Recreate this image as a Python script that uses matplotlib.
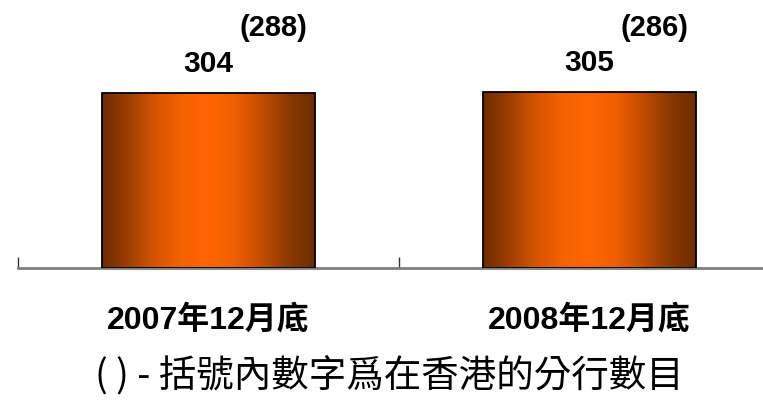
import matplotlib
matplotlib.use('Agg')
import matplotlib.pyplot as plt
from matplotlib.colors import LinearSegmentedColormap
import numpy as np

# branch numbers at year end, brackets = branches in Hong Kong
categories = ['2007年12月底', '2008年12月底']
totals = [304, 305]
hk_branches = [288, 286]
note = '( ) - 括號內數字爲在香港的分行數目'

fig = plt.figure(figsize=(7.63, 4.03), dpi=100)
ax = fig.add_axes([18 / 763, 135 / 403, 762 / 763, 268 / 403])

x = np.arange(len(categories))
bars = ax.bar(x, totals, width=0.557, facecolor='none', edgecolor='black',
              linewidth=1.3, zorder=3)

# left-to-right shading: dark brown edges, bright orange middle
shade = LinearSegmentedColormap.from_list(
    'copper_bar', ['#6e2c00', '#9c3f00', '#d65500', '#f56200', '#ff6600',
                   '#f05f00', '#c24d00', '#8c3a00', '#6e2c00'])
grad = np.linspace(0, 1, 256).reshape(1, -1)
for b in bars:
    bx, by = b.get_x(), b.get_y()
    im = ax.imshow(grad, cmap=shade, aspect='auto', zorder=2,
                   extent=[bx, bx + b.get_width(), by, by + b.get_height()])
    im.set_clip_path(b)

for xi, tot, hk in zip(x, totals, hk_branches):
    ax.annotate(str(tot), (xi, tot), xytext=(0, 21), textcoords='offset points',
                ha='center', va='center', fontsize=21.5, fontweight='bold',
                family='Liberation Sans')
    ax.annotate('(%d)' % hk, (xi, tot), xytext=(46.8, 46.5), textcoords='offset points',
                ha='center', va='center', fontsize=21, fontweight='bold',
                family='Liberation Sans')

ax.set_xlim(-0.5, 1.5)
ax.set_ylim(0, 465)

for s in ['top', 'right', 'left']:
    ax.spines[s].set_visible(False)
ax.spines['bottom'].set_color('#808080')
ax.spines['bottom'].set_linewidth(2)
ax.set_yticks([])

ax.set_xticks(x)
ax.set_xticklabels(categories, fontsize=23, fontweight='bold',
                   family=['Liberation Sans', 'Noto Sans CJK TC'])
ax.tick_params(axis='x', which='major', length=0, pad=26)
ax.set_xticks([-0.5, 0.5, 1.5], minor=True)
ax.tick_params(axis='x', which='minor', direction='in', length=8, width=1,
               color='#333333')

fig.text(0.51, 1 - 376 / 403, note, ha='center', va='center', fontsize=27,
         family=['Noto Sans CJK TC', 'DejaVu Sans'], fontweight='light')

fig.savefig('out.png', dpi=100)
